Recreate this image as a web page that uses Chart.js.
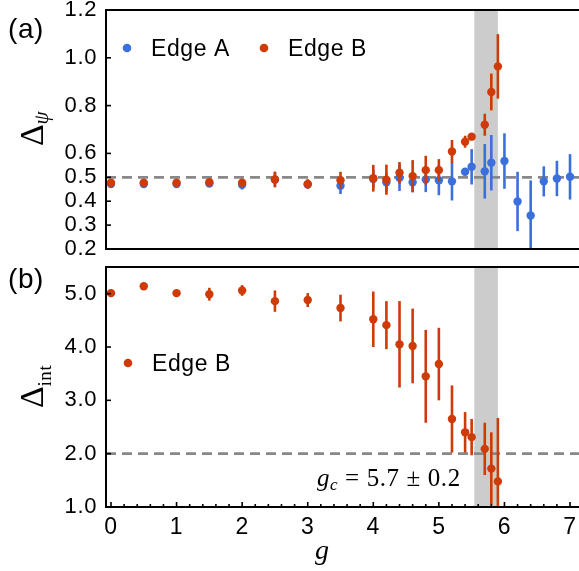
<!DOCTYPE html>
<html>
<head>
<meta charset="utf-8">
<script src="https://cdn.jsdelivr.net/npm/chart.js@4.4.1/dist/chart.umd.min.js"></script>
<style>
  body { margin: 0; background: #fff; }
  #wrap { position: relative; width: 579px; height: 571px; background: #fff; overflow: hidden; }
  canvas { position: absolute; left: 0; }
  #top { top: 0; width: 579px; height: 260px; }
  #bottom { top: 260px; width: 579px; height: 311px; }
</style>
</head>
<body>
<div id="wrap">
  <canvas id="top" width="579" height="260"></canvas>
  <canvas id="bottom" width="579" height="311"></canvas>
</div>
<script>
// couplings g
const gEdgeB = [0, 0.5, 1, 1.5, 2, 2.5, 3, 3.5, 4, 4.2, 4.4, 4.6, 4.8, 5, 5.2, 5.4, 5.5, 5.7, 5.8, 5.9];
const gEdgeA = [0, 0.5, 1, 1.5, 2, 2.5, 3, 3.5, 4, 4.2, 4.4, 4.6, 4.8, 5, 5.2, 5.4, 5.5, 5.7, 5.8, 6.0, 6.2, 6.4, 6.6, 6.8, 7.0];

// (a) Delta_psi
const psiEdgeA    = [0.472, 0.472, 0.472, 0.474, 0.469, 0.491, 0.470, 0.465, 0.493, 0.479, 0.498, 0.479, 0.491, 0.488, 0.483, 0.523, 0.544, 0.525, 0.561, 0.568, 0.399, 0.340, 0.483, 0.495, 0.502];
const psiEdgeAErr = [0.010, 0.010, 0.010, 0.010, 0.020, 0.030, 0.015, 0.035, 0.040, 0.040, 0.055, 0.042, 0.053, 0.063, 0.080, 0.008, 0.074, 0.114, 0.116, 0.116, 0.124, 0.147, 0.063, 0.074, 0.095];
const psiEdgeB    = [0.477, 0.477, 0.477, 0.479, 0.477, 0.491, 0.472, 0.488, 0.496, 0.490, 0.519, 0.505, 0.530, 0.530, 0.608, 0.649, 0.670, 0.720, 0.857, 0.964];
const psiEdgeBErr = [0.015, 0.012, 0.012, 0.012, 0.015, 0.033, 0.020, 0.035, 0.056, 0.063, 0.045, 0.067, 0.060, 0.046, 0.048, 0.025, 0.008, 0.046, 0.077, 0.135];

// (b) Delta_int
const intEdgeB    = [5.01, 5.14, 5.01, 4.99, 5.06, 4.86, 4.88, 4.73, 4.52, 4.41, 4.05, 4.02, 3.45, 3.68, 2.65, 2.40, 2.31, 2.09, 1.72, 1.48];
const intEdgeBErr = [0.07, 0.05, 0.06, 0.12, 0.10, 0.20, 0.13, 0.25, 0.52, 0.45, 0.81, 0.70, 0.87, 0.68, 0.63, 0.38, 0.34, 0.49, 0.68, 1.19];

const yTicksA = [0.2, 0.3, 0.4, 0.5, 0.6, 0.8, 1.0, 1.2];
const yTicksB = [1, 2, 3, 4, 5];
const xTicks = [0, 1, 2, 3, 4, 5, 6, 7];
const refPsi = 0.5;
const refInt = 2.0;
const gcBand = [5.54, 5.9];
const xRange = [-0.076, 7.137];

const BLUE = '#3b6fdb';
const RED = '#cf3a06';
const SANS = '"Liberation Sans", Arial, sans-serif';
const SERIF = '"Liberation Serif", "Times New Roman", serif';
const TRACK = '0.6px';

const pts = (xs, ys) => xs.map((x, i) => ({x, y: ys[i]}));

// fixed axis boxes, no extra room for overhanging labels
const fixWidth = w => s => { s.width = w; s.paddingTop = 0; s.paddingBottom = 0; };
const fixHeight = h => s => { s.height = h; s.paddingLeft = 0; s.paddingRight = 0; };

const tracking = {
  id: 'tracking',
  beforeUpdate(chart) { chart.ctx.letterSpacing = TRACK; },
  beforeDraw(chart) { chart.ctx.letterSpacing = TRACK; }
};

const errorBars = {
  id: 'errorBars',
  beforeDatasetDraw(chart, args) {
    const ds = chart.data.datasets[args.index];
    if (!ds.errors) return;
    const {ctx, chartArea: a, scales: {x, y}} = chart;
    ctx.save();
    ctx.beginPath();
    ctx.rect(a.left, a.top, a.width, a.height);
    ctx.clip();
    ctx.strokeStyle = ds.backgroundColor;
    ctx.lineWidth = 2.6;
    ds.data.forEach((p, i) => {
      const px = x.getPixelForValue(p.x);
      ctx.beginPath();
      ctx.moveTo(px, y.getPixelForValue(p.y - ds.errors[i]));
      ctx.lineTo(px, y.getPixelForValue(p.y + ds.errors[i]));
      ctx.stroke();
    });
    ctx.restore();
  }
};

// shaded g_c band and dashed reference line
const backdrop = {
  id: 'backdrop',
  beforeDatasetsDraw(chart, args, opts) {
    const {ctx, chartArea: a, scales: {x, y}} = chart;
    ctx.save();
    ctx.fillStyle = '#cccccc';
    const x0 = x.getPixelForValue(gcBand[0]), x1 = x.getPixelForValue(gcBand[1]);
    ctx.fillRect(x0, a.top, x1 - x0, a.height);
    ctx.strokeStyle = '#888888';
    ctx.lineWidth = 2.8;
    ctx.setLineDash([10, 6]);
    const py = y.getPixelForValue(opts.ref);
    ctx.beginPath();
    ctx.moveTo(a.left, py);
    ctx.lineTo(a.right, py);
    ctx.stroke();
    ctx.restore();
  }
};

// box (right side runs off the page), inward ticks, legend and hand-set labels
const frame = {
  id: 'frame',
  afterDraw(chart, args, opts) {
    const {ctx, chartArea: a, scales: {x, y}} = chart;
    ctx.save();
    ctx.letterSpacing = TRACK;
    ctx.strokeStyle = '#000';
    ctx.lineWidth = 1.6;
    y.ticks.forEach(t => {
      const py = y.getPixelForValue(t.value);
      ctx.beginPath(); ctx.moveTo(a.left, py); ctx.lineTo(a.left + 5, py); ctx.stroke();
    });
    if (opts.xTicks) {
      for (let v = Math.ceil(x.min / 0.2) * 0.2; v <= x.max; v += 0.2) {
        const major = Math.abs(v - Math.round(v)) < 1e-6;
        const px = x.getPixelForValue(v);
        ctx.beginPath(); ctx.moveTo(px, a.bottom); ctx.lineTo(px, a.bottom - (major ? 5 : 3)); ctx.stroke();
      }
    }
    ctx.lineWidth = 2;
    ctx.beginPath();
    ctx.moveTo(a.right + 2, a.top);
    ctx.lineTo(a.left, a.top);
    ctx.lineTo(a.left, a.bottom);
    ctx.lineTo(a.right + 2, a.bottom);
    ctx.stroke();

    ctx.fillStyle = '#000';
    ctx.textBaseline = 'alphabetic';
    ctx.textAlign = 'left';

    // legend
    opts.legend.forEach(item => {
      const ds = chart.data.datasets[item.index];
      ctx.fillStyle = ds.backgroundColor;
      ctx.beginPath(); ctx.arc(item.x, item.y, 4.3, 0, Math.PI * 2); ctx.fill();
      ctx.fillStyle = '#000';
      ctx.font = '23px ' + SANS;
      ctx.fillText(ds.label, item.x + 24, item.y + 8);
    });

    // panel tag
    ctx.font = '28px ' + SANS;
    ctx.fillText(opts.tag, 8, opts.tagY);

    // y title, rotated
    ctx.save();
    ctx.translate(43, opts.titleY);
    ctx.rotate(-Math.PI / 2);
    ctx.font = '34px ' + SERIF;
    ctx.fillText('Δ', 0, 0);
    const w = ctx.measureText('Δ').width;
    ctx.font = opts.subFont;
    ctx.fillText(opts.sub, w - 1, opts.subDy);
    ctx.restore();

    if (opts.extra) opts.extra(ctx);
    ctx.restore();
  }
};

new Chart(document.getElementById('top'), {
  type: 'scatter',
  data: {
    datasets: [
      {label: 'Edge A', data: pts(gEdgeA, psiEdgeA), errors: psiEdgeAErr, backgroundColor: BLUE, pointRadius: 4.2, borderWidth: 0, order: 2},
      {label: 'Edge B', data: pts(gEdgeB, psiEdgeB), errors: psiEdgeBErr, backgroundColor: RED, pointRadius: 4.2, borderWidth: 0, order: 1}
    ]
  },
  options: {
    animation: false, responsive: false, events: [],
    layout: {autoPadding: false, padding: {left: 0, right: 0, top: 10, bottom: 11}},
    plugins: {
      legend: {display: false}, tooltip: {enabled: false},
      backdrop: {ref: refPsi},
      frame: {
        legend: [{index: 0, x: 127, y: 48}, {index: 1, x: 264, y: 48}],
        tag: '(a)', tagY: 38, titleY: 146,
        sub: 'ψ', subFont: 'italic 21px ' + SERIF, subDy: 5
      }
    },
    scales: {
      x: {type: 'linear', display: false, min: xRange[0], max: xRange[1]},
      y: {
        min: 0.2, max: 1.2,
        afterFit: fixWidth(106),
        afterBuildTicks: s => { s.ticks = yTicksA.map(v => ({value: v})); },
        grid: {display: false, drawTicks: false}, border: {display: false},
        ticks: {padding: 9, color: '#000', font: {family: SANS, size: 22}, callback: v => v.toFixed(1)}
      }
    }
  },
  plugins: [tracking, backdrop, errorBars, frame]
});

new Chart(document.getElementById('bottom'), {
  type: 'scatter',
  data: {
    datasets: [
      {label: 'Edge B', data: pts(gEdgeB, intEdgeB), errors: intEdgeBErr, backgroundColor: RED, pointRadius: 4.2, borderWidth: 0}
    ]
  },
  options: {
    animation: false, responsive: false, events: [],
    layout: {autoPadding: false, padding: {left: 0, right: 0, top: 7, bottom: 0}},
    plugins: {
      legend: {display: false}, tooltip: {enabled: false},
      backdrop: {ref: refInt},
      frame: {
        xTicks: true,
        legend: [{index: 0, x: 128, y: 103}],
        tag: '(b)', tagY: 28, titleY: 148,
        sub: 'int', subFont: '19px ' + SERIF, subDy: 8,
        extra: ctx => {
          // x title
          ctx.font = 'italic 28px ' + SERIF;
          ctx.fillText('g', 315, 299);
          // g_c annotation
          let x0 = 317;
          ctx.font = 'italic 25px ' + SERIF;
          ctx.fillText('g', x0, 226);
          x0 += ctx.measureText('g').width;
          ctx.font = 'italic 17px ' + SERIF;
          ctx.fillText('c', x0, 230);
          x0 += ctx.measureText('c').width;
          ctx.font = '25px ' + SERIF;
          ctx.fillText(' = 5.7 ± 0.2', x0, 226);
        }
      }
    },
    scales: {
      x: {
        type: 'linear', min: xRange[0], max: xRange[1],
        afterFit: fixHeight(64),
        afterBuildTicks: s => { s.ticks = xTicks.map(v => ({value: v})); },
        grid: {display: false, drawTicks: false}, border: {display: false},
        ticks: {padding: 7, color: '#000', font: {family: SANS, size: 23}, maxRotation: 0, autoSkip: false}
      },
      y: {
        min: 1, max: 5.5,
        afterFit: fixWidth(106),
        afterBuildTicks: s => { s.ticks = yTicksB.map(v => ({value: v})); },
        grid: {display: false, drawTicks: false}, border: {display: false},
        ticks: {padding: 9, color: '#000', font: {family: SANS, size: 22}, callback: v => v.toFixed(1)}
      }
    }
  },
  plugins: [tracking, backdrop, errorBars, frame]
});
</script>
</body>
</html>
